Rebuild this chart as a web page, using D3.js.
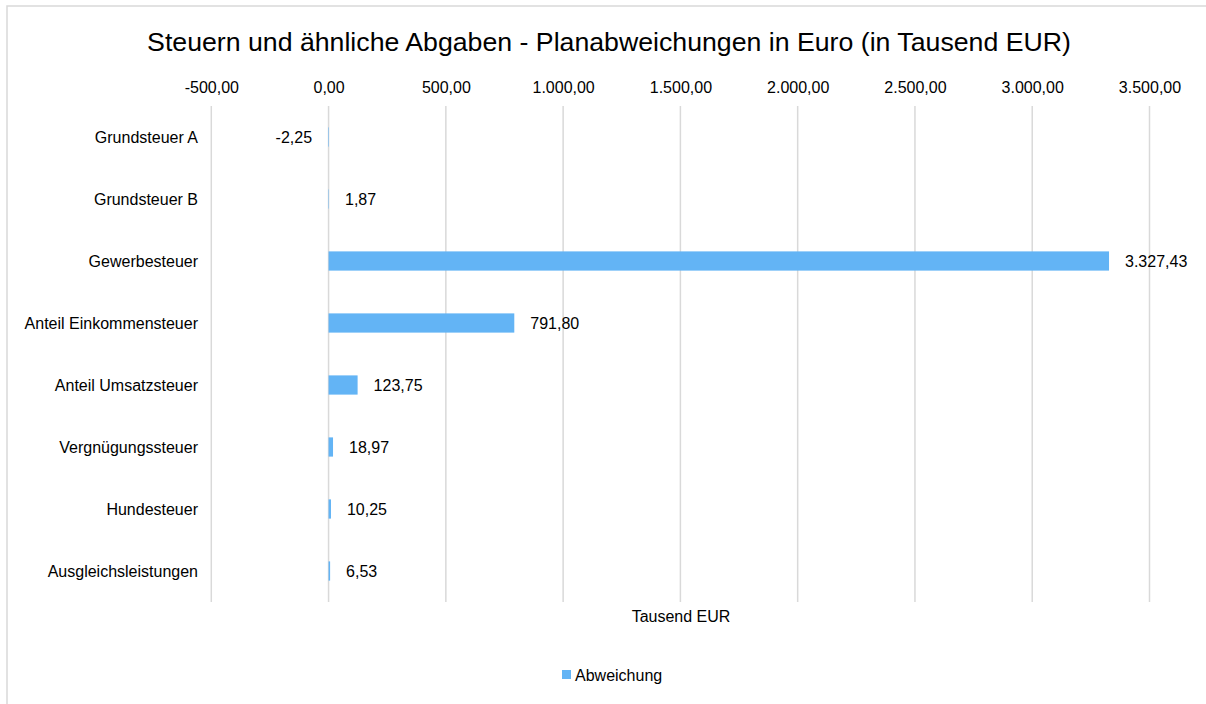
<!DOCTYPE html>
<html>
<head>
<meta charset="utf-8">
<script src="https://cdn.jsdelivr.net/npm/d3@7"></script>
<style>
  body { margin: 0; background: #fff; }
  text { font-family: "Liberation Sans", Arial, sans-serif; fill: #000; }
</style>
</head>
<body>
<div id="chart"></div>
<script>
// categories (top to bottom)
var categories = ["Grundsteuer A", "Grundsteuer B", "Gewerbesteuer", "Anteil Einkommensteuer",
  "Anteil Umsatzsteuer", "Vergnügungssteuer", "Hundesteuer", "Ausgleichsleistungen"];
// deviation values in Tausend EUR
var values = [-2.25, 1.87, 3327.43, 791.80, 123.75, 18.97, 10.25, 6.53];
// x axis ticks
var tickValues = [-500, 0, 500, 1000, 1500, 2000, 2500, 3000, 3500];

var svgWidth = 1206, svgHeight = 704;
var barColor = "#63b4f5";

// german number format, plain hyphen as minus
var de = d3.formatLocale({ decimal: ",", thousands: ".", grouping: [3], currency: ["", " €"], minus: "-" });
var fmt = de.format(",.2f");

var svg = d3.select("#chart").append("svg")
  .attr("width", svgWidth)
  .attr("height", svgHeight);

// chart border (only left/top visible in the frame)
svg.append("rect")
  .attr("x", 7).attr("y", 6)
  .attr("width", svgWidth + 20).attr("height", svgHeight + 20)
  .attr("fill", "none")
  .attr("stroke", "#d9d9d9")
  .attr("stroke-width", 1.5);

// plot area
var plot = { left: 211.3, right: 1149.5, top: 106, bottom: 602 };

var xScale = d3.scaleLinear()
  .domain([-500, 3500])
  .range([plot.left, plot.right]);

var yScale = d3.scaleBand()
  .domain(categories)
  .range([plot.top, plot.bottom])
  .paddingInner(0.69)
  .paddingOuter(0.345);

// title
svg.append("text")
  .attr("x", 609)
  .attr("y", 51)
  .attr("text-anchor", "middle")
  .style("font-size", "26.7px")
  .text("Steuern und ähnliche Abgaben - Planabweichungen in Euro (in Tausend EUR)");

// gridlines
svg.append("g").selectAll("line")
  .data(tickValues)
  .enter().append("line")
  .attr("x1", d => xScale(d)).attr("x2", d => xScale(d))
  .attr("y1", plot.top).attr("y2", plot.bottom)
  .attr("stroke", "#d9d9d9")
  .attr("stroke-width", 1.5);

// top axis
var xAxis = d3.axisTop(xScale)
  .tickValues(tickValues)
  .tickSize(0)
  .tickPadding(6)
  .tickFormat(fmt);

var gx = svg.append("g")
  .attr("transform", "translate(0, 99)")
  .call(xAxis);
gx.select(".domain").remove();
gx.selectAll("text")
  .style("font-size", "16px")
  .style("font-family", "'Liberation Sans', Arial, sans-serif")
  .attr("fill", "#000");

// category labels
svg.append("g").selectAll("text")
  .data(categories)
  .enter().append("text")
  .attr("x", 198)
  .attr("y", d => yScale(d) + yScale.bandwidth() / 2)
  .attr("dy", "0.35em")
  .attr("text-anchor", "end")
  .style("font-size", "16px")
  .text(d => d);

// bars
svg.append("g").selectAll("rect")
  .data(values)
  .enter().append("rect")
  .attr("x", d => xScale(Math.min(0, d)))
  .attr("y", (d, i) => yScale(categories[i]))
  .attr("width", d => Math.abs(xScale(d) - xScale(0)))
  .attr("height", yScale.bandwidth())
  .attr("fill", barColor);

// value labels
svg.append("g").selectAll("text")
  .data(values)
  .enter().append("text")
  .attr("x", d => d < 0 ? xScale(d) - 16 : xScale(d) + 16)
  .attr("y", (d, i) => yScale(categories[i]) + yScale.bandwidth() / 2)
  .attr("dy", "0.35em")
  .attr("text-anchor", d => d < 0 ? "end" : "start")
  .style("font-size", "16px")
  .text(d => fmt(d));

// axis title
svg.append("text")
  .attr("x", 681)
  .attr("y", 622)
  .attr("text-anchor", "middle")
  .style("font-size", "16px")
  .text("Tausend EUR");

// legend
var legend = svg.append("g").attr("transform", "translate(562, 670)");
legend.append("rect")
  .attr("width", 9).attr("height", 9)
  .attr("fill", barColor);
legend.append("text")
  .attr("x", 13)
  .attr("y", 5)
  .attr("dy", "0.35em")
  .style("font-size", "16px")
  .text("Abweichung");
</script>
</body>
</html>
